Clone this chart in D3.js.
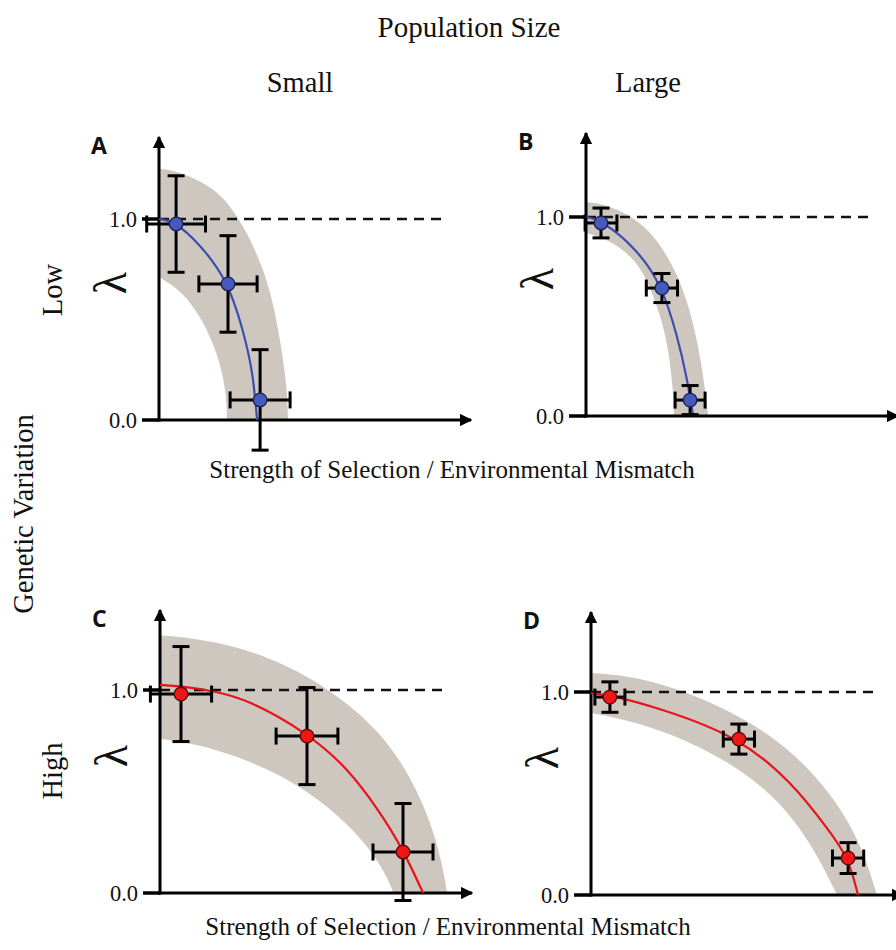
<!DOCTYPE html>
<html>
<head>
<meta charset="UTF-8">
<title>Population size x genetic variation</title>
<script src="https://cdn.jsdelivr.net/npm/d3@7"></script>
<style>
  body { margin:0; background:#fff; }
  text { font-family:"Liberation Serif","Times New Roman",serif; fill:#111; }
  .letter { font-family:"Open Sans","DejaVu Sans",sans-serif; font-weight:700; }
</style>
</head>
<body>
<div id="chart"></div>
<script>
// --- data (x = selection strength, 0..1 ; y = lambda) ---
const yTicks = [0, 1];
const yTickLabels = ['0.0', '1.0'];
const colHeaders = ['Small', 'Large'];
const rowHeaders = ['Low', 'High'];

const pointsA = [ {x:0.057,y:0.975,ex:0.098,ey:0.24}, {x:0.23,y:0.677,ex:0.097,ey:0.24}, {x:0.337,y:0.10,ex:0.10,ey:0.25} ];
const pointsB = [ {x:0.05,y:0.97,ex:0.053,ey:0.075}, {x:0.253,y:0.643,ex:0.052,ey:0.073}, {x:0.347,y:0.08,ex:0.05,ey:0.073} ];
const pointsC = [ {x:0.07,y:0.98,ex:0.102,ey:0.234}, {x:0.49,y:0.773,ex:0.103,ey:0.239}, {x:0.81,y:0.202,ex:0.10,ey:0.239} ];
const pointsD = [ {x:0.063,y:0.975,ex:0.05,ey:0.075}, {x:0.493,y:0.768,ex:0.052,ey:0.074}, {x:0.857,y:0.182,ex:0.052,ey:0.076} ];

// fitted curves
const curveA = [[0,1.0],[0.05,0.99],[0.137,0.875],[0.23,0.69],[0.28,0.45],[0.313,0.24],[0.327,0]];
const curveB = [[0,1.0],[0.05,0.985],[0.17,0.84],[0.253,0.655],[0.303,0.41],[0.337,0.19],[0.357,0]];
const curveC = [[0,1.025],[0.067,1.02],[0.177,0.995],[0.29,0.955],[0.49,0.79],[0.623,0.62],[0.733,0.40],[0.81,0.215],[0.877,0]];
const curveD = [[0,0.995],[0.063,0.985],[0.23,0.92],[0.493,0.78],[0.673,0.55],[0.787,0.33],[0.857,0.19],[0.89,0]];

// shaded uncertainty band, upper and lower edges
const bandUpA = [[0,1.25],[0.06,1.24],[0.18,1.16],[0.247,1.05],[0.313,0.88],[0.37,0.66],[0.403,0.41],[0.427,0.16],[0.43,0]];
const bandLoA = [[0,0.71],[0.07,0.65],[0.147,0.50],[0.203,0.30],[0.224,0.13],[0.227,0]];
const bandUpB = [[0,1.075],[0.08,1.06],[0.19,0.97],[0.27,0.82],[0.337,0.6],[0.38,0.317],[0.403,0.065],[0.407,0]];
const bandLoB = [[0,0.92],[0.08,0.884],[0.17,0.784],[0.223,0.618],[0.27,0.397],[0.29,0.146],[0.293,0]];
const bandUpC = [[0,1.27],[0.177,1.246],[0.4,1.148],[0.623,0.95],[0.79,0.704],[0.9,0.374],[0.943,0.128],[0.957,0]];
const bandLoC = [[0,0.76],[0.177,0.72],[0.4,0.59],[0.567,0.424],[0.7,0.227],[0.767,0.05],[0.777,0]];
const bandUpD = [[0,1.094],[0.17,1.074],[0.397,0.96],[0.62,0.778],[0.787,0.532],[0.897,0.27],[0.953,0]];
const bandLoD = [[0,0.897],[0.17,0.847],[0.397,0.714],[0.597,0.517],[0.73,0.27],[0.82,0]];

const W = 896, H = 950;
const svg = d3.select('#chart').append('svg').attr('width', W).attr('height', H);

const BLUE = {line:'#3c4fae', fill:'#4659bd', stroke:'#1c2350'};
const RED  = {line:'#e8141c', fill:'#f01616', stroke:'#5a0a0a'};
const BAND = '#cdc7c0';

// panel placement (pixel origin, pixel of lambda = 1)
const panels = [
  {id:'A', x0:159, y0:420, y1:219, pts:pointsA, curve:curveA, up:bandUpA, lo:bandLoA, col:BLUE},
  {id:'B', x0:586, y0:416, y1:217, pts:pointsB, curve:curveB, up:bandUpB, lo:bandLoB, col:BLUE},
  {id:'C', x0:160, y0:893, y1:690, pts:pointsC, curve:curveC, up:bandUpC, lo:bandLoC, col:RED},
  {id:'D', x0:591, y0:895, y1:692, pts:pointsD, curve:curveD, up:bandUpD, lo:bandLoD, col:RED}
];

svg.append('defs').append('marker')
  .attr('id','arrow').attr('viewBox','0 0 10 10').attr('refX',9).attr('refY',5)
  .attr('markerWidth',4.2).attr('markerHeight',4.2).attr('markerUnits','strokeWidth')
  .attr('orient','auto')
  .append('path').attr('d','M0,0L10,5L0,10Z').attr('fill','#000');

panels.forEach(p => {
  const x = d3.scaleLinear().domain([0,1]).range([p.x0, p.x0 + 300]);
  const y = d3.scaleLinear().domain([0,1]).range([p.y0, p.y1]);
  const g = svg.append('g');
  const line = d3.line().x(d => x(d[0])).y(d => y(d[1])).curve(d3.curveBasis);

  // shaded band
  const upPath = line(p.up);
  const loPath = line(p.lo.slice().reverse()).replace(/^M/, 'L');
  g.append('path').attr('d', upPath + loPath + 'Z').attr('fill', BAND);

  // dashed lambda = 1
  g.append('line')
    .attr('x1', x(0)).attr('x2', x(0.96)).attr('y1', y(1)).attr('y2', y(1))
    .attr('stroke','#111').attr('stroke-width',2.6).attr('stroke-dasharray','10,7');

  // axes
  g.append('line').attr('x1', x(0)).attr('x2', x(0)).attr('y1', y(0) + 1.5).attr('y2', y(0) - 283)
    .attr('stroke','#000').attr('stroke-width',3).attr('marker-end','url(#arrow)');
  g.append('line').attr('x1', x(0) - 1.5).attr('x2', x(0) + 312).attr('y1', y(0)).attr('y2', y(0))
    .attr('stroke','#000').attr('stroke-width',3).attr('marker-end','url(#arrow)');

  yTicks.forEach((t, i) => {
    g.append('line').attr('x1', x(0) - 17).attr('x2', x(0)).attr('y1', y(t)).attr('y2', y(t))
      .attr('stroke','#000').attr('stroke-width',3.5);
    g.append('text').attr('x', x(0) - 22).attr('y', y(t)).attr('dy','0.35em')
      .attr('text-anchor','end').style('font-size','22.5px').text(yTickLabels[i]);
  });

  // lambda label
  g.append('text')
    .attr('transform', `translate(${x(0) - 33},${y(0) - 137}) rotate(-90)`)
    .attr('text-anchor','middle').style('font-size','46px').text('λ');

  // panel letter
  g.append('text').attr('class','letter')
    .attr('x', x(0) - 68).attr('y', y(0) - 266)
    .style('font-size','23px').text(p.id);

  // fitted curve
  g.append('path').attr('d', line(p.curve)).attr('fill','none')
    .attr('stroke', p.col.line).attr('stroke-width',2.2);

  // error bars
  const cap = 8.5;
  const eb = g.selectAll('g.eb').data(p.pts).enter().append('g')
    .attr('stroke','#000').attr('stroke-width',3);
  eb.append('line').attr('x1', d => x(d.x)).attr('x2', d => x(d.x)).attr('y1', d => y(d.y - d.ey)).attr('y2', d => y(d.y + d.ey));
  eb.append('line').attr('x1', d => x(d.x - d.ex)).attr('x2', d => x(d.x + d.ex)).attr('y1', d => y(d.y)).attr('y2', d => y(d.y));
  [-1, 1].forEach(s => {
    eb.append('line').attr('x1', d => x(d.x) - cap).attr('x2', d => x(d.x) + cap)
      .attr('y1', d => y(d.y + s * d.ey)).attr('y2', d => y(d.y + s * d.ey));
    eb.append('line').attr('x1', d => x(d.x + s * d.ex)).attr('x2', d => x(d.x + s * d.ex))
      .attr('y1', d => y(d.y) - cap).attr('y2', d => y(d.y) + cap);
  });

  g.selectAll('circle').data(p.pts).enter().append('circle')
    .attr('cx', d => x(d.x)).attr('cy', d => y(d.y)).attr('r', 6.8)
    .attr('fill', p.col.fill).attr('stroke', p.col.stroke).attr('stroke-width',1.3);
});

// headers and titles
svg.append('text').attr('x', 469).attr('y', 37).attr('text-anchor','middle')
  .style('font-size','29px').text('Population Size');
[300, 648].forEach((cx, i) => {
  svg.append('text').attr('x', cx).attr('y', 92).attr('text-anchor','middle')
    .style('font-size','28.5px').text(colHeaders[i]);
});
[290, 771].forEach((cy, i) => {
  svg.append('text').attr('transform', `translate(62,${cy}) rotate(-90)`)
    .attr('text-anchor','middle').style('font-size','28.5px').text(rowHeaders[i]);
});
svg.append('text').attr('transform', 'translate(33,514) rotate(-90)')
  .attr('text-anchor','middle').style('font-size','28.5px').text('Genetic Variation');
[[452, 478], [448, 935]].forEach(([cx, cy]) => {
  svg.append('text').attr('x', cx).attr('y', cy).attr('text-anchor','middle')
    .style('font-size','25px').text('Strength of Selection / Environmental Mismatch');
});
</script>
</body>
</html>
